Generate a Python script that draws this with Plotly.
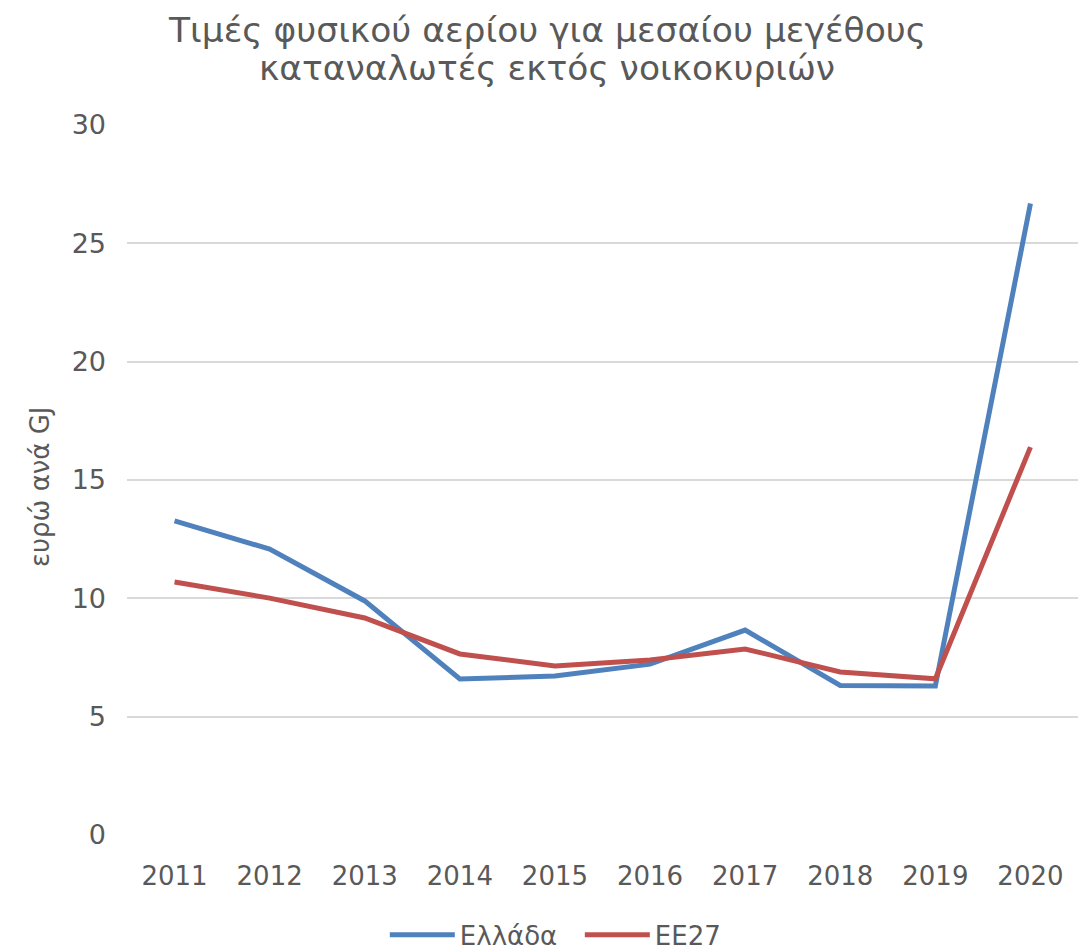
import plotly.graph_objects as go

years = ["2011", "2012", "2013", "2014", "2015", "2016", "2017", "2018", "2019", "2020"]
greece = [13.27, 12.08, 9.89, 6.59, 6.72, 7.22, 8.66, 6.32, 6.30, 26.68]
eu27 = [10.69, 10.01, 9.17, 7.65, 7.14, 7.39, 7.86, 6.89, 6.60, 16.39]
y_ticks = [0, 5, 10, 15, 20, 25, 30]
title_lines = ["Τιμές φυσικού αερίου για μεσαίου μεγέθους", "καταναλωτές εκτός νοικοκυριών"]
y_title = "ευρώ ανά GJ"

FONT = "DejaVu Sans"
GREY = "#595959"

fig = go.Figure()
fig.add_trace(go.Scatter(x=years, y=greece, mode="lines", name="Ελλάδα",
                         line=dict(color="#4F81BD", width=5)))
fig.add_trace(go.Scatter(x=years, y=eu27, mode="lines", name="ΕΕ27",
                         line=dict(color="#C0504D", width=5)))

# page body adds an 8px offset; figure is sized to compensate
fig.update_layout(
    width=1083, height=942,
    margin=dict(l=119, r=13, t=117, b=115, autoexpand=False),
    paper_bgcolor="white", plot_bgcolor="white",
    font=dict(family=FONT, color=GREY, size=24),
    showlegend=True,
    legend=dict(orientation="h", x=0.528, xref="container", xanchor="center",
                y=0.016, yref="container", yanchor="middle",
                font=dict(size=26, color=GREY), itemwidth=65,
                entrywidth=115, entrywidthmode="pixels"),
    xaxis=dict(type="category", range=[-0.5, 9.5], showgrid=False, showline=False,
               ticks="", automargin=False, ticklabelstandoff=23,
               tickfont=dict(size=26, color=GREY)),
    yaxis=dict(range=[0, 30], tickvals=y_ticks, showgrid=True, gridcolor="#D9D9D9",
               gridwidth=1.5, zeroline=False, showline=False, ticks="", automargin=False,
               ticklabelstandoff=20, tickfont=dict(size=27, color=GREY)),
)

for txt, ypx in zip(title_lines, [30, 68]):
    fig.add_annotation(text=txt, xref="paper", yref="paper", x=(547 - 127) / 951,
                       y=(835 - ypx) / 710, xanchor="center", yanchor="middle",
                       showarrow=False, font=dict(family=FONT, size=34.5, color=GREY))

fig.add_annotation(text=y_title, xref="paper", yref="paper", x=(40 - 127) / 951,
                   y=(835 - 487) / 710, xanchor="center", yanchor="middle", textangle=-90,
                   showarrow=False, font=dict(family=FONT, size=26, color=GREY))

fig.write_html("out.html")
